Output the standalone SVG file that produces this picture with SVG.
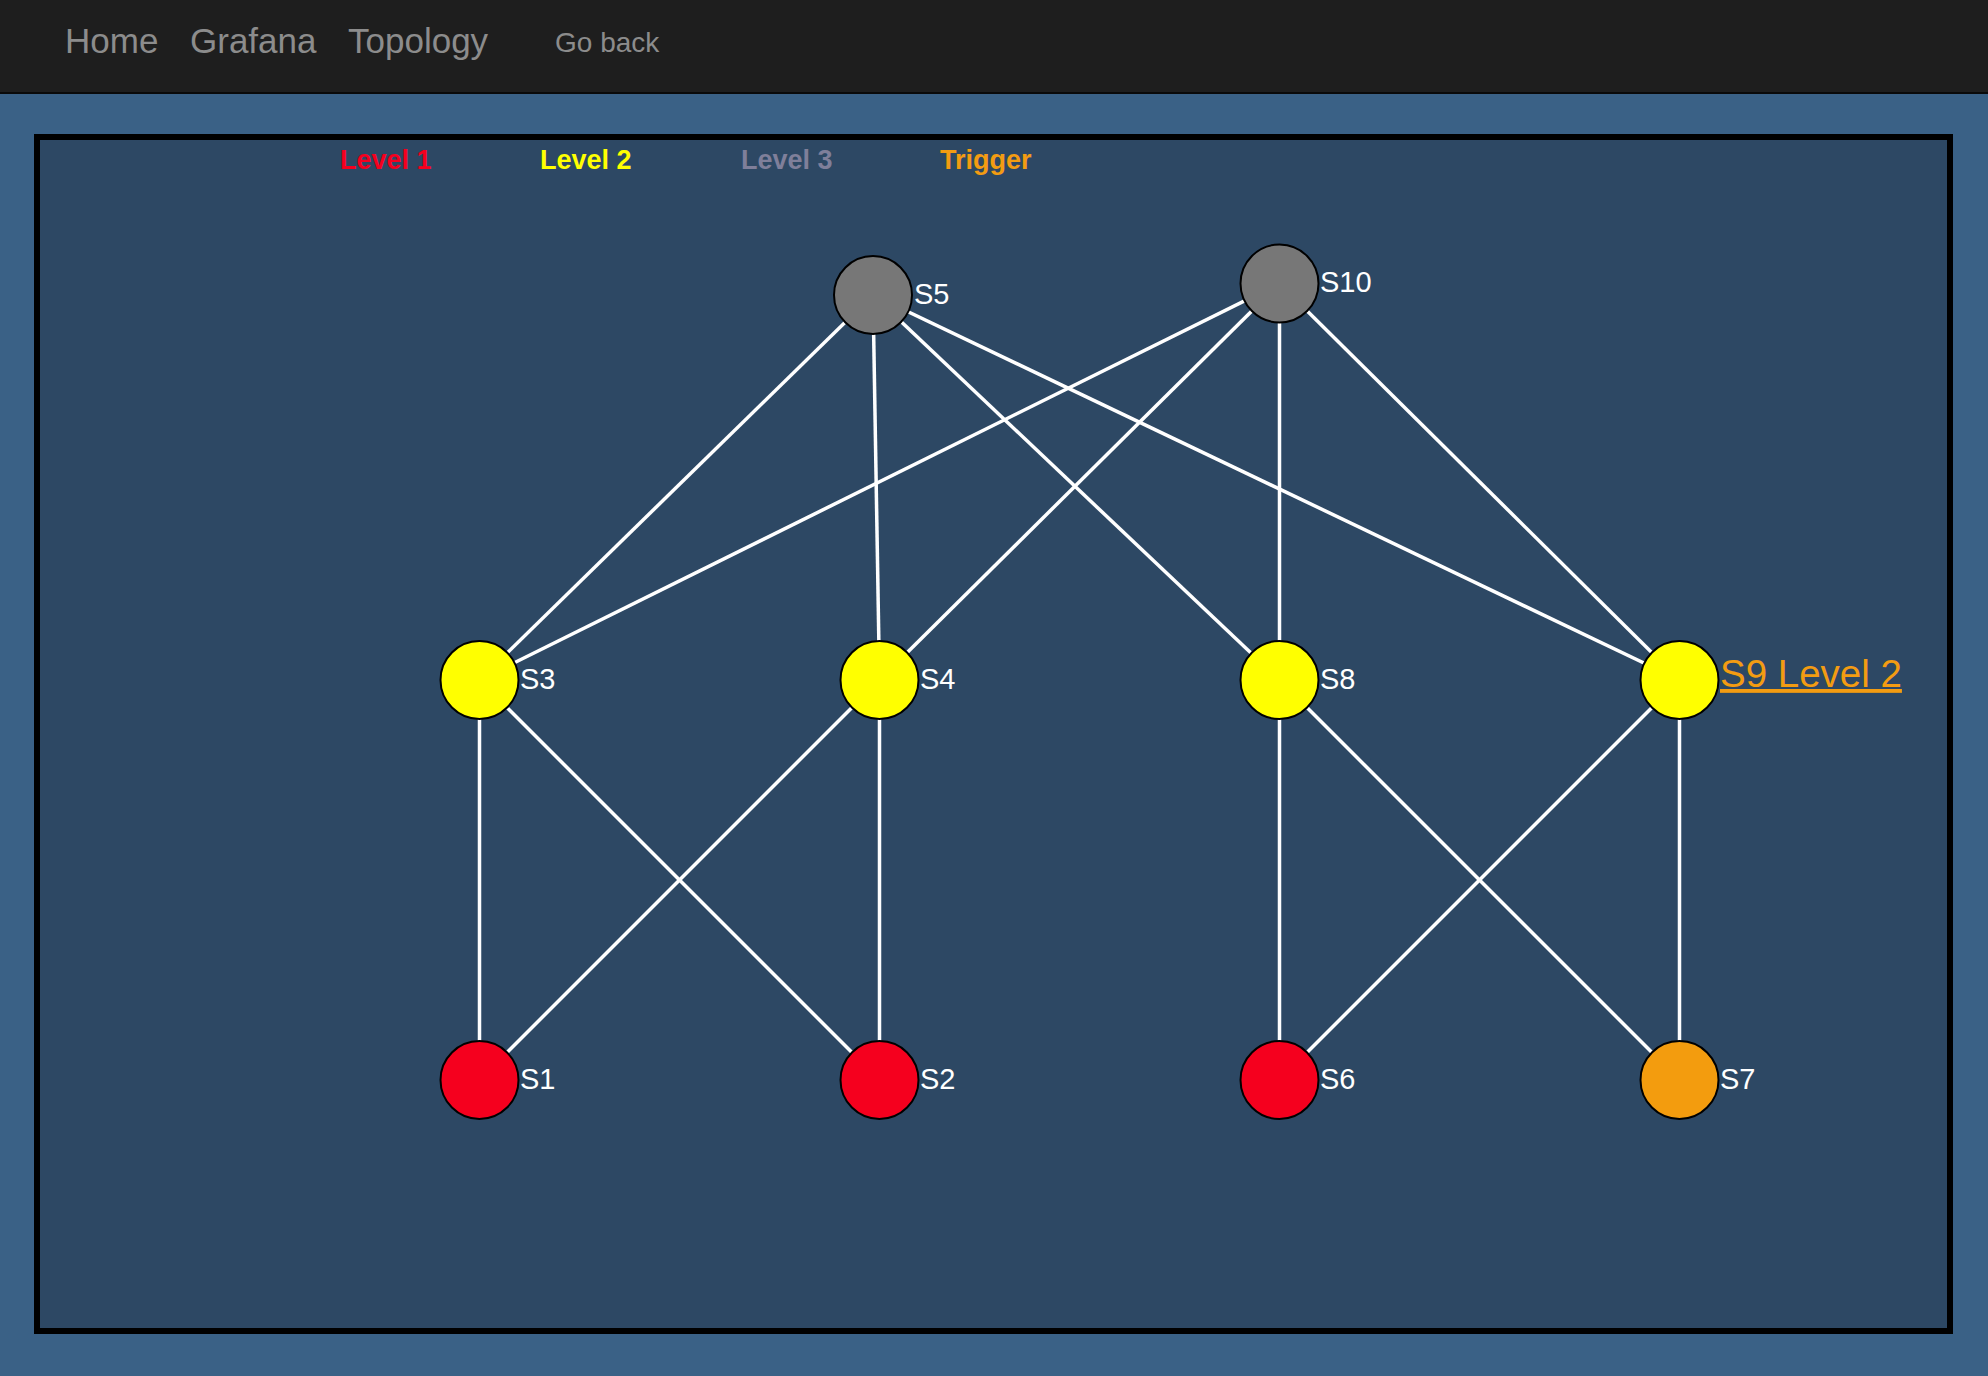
<svg xmlns="http://www.w3.org/2000/svg" width="1988" height="1376" viewBox="0 0 1988 1376">
<style>
.nav{font-family:"Liberation Sans",Arial,sans-serif;fill:#8c8c8c}
.leg{font-family:"Liberation Sans",Arial,sans-serif;font-weight:bold;font-size:27px}
.lbl{font-family:"Liberation Sans",Arial,sans-serif;font-size:29px;fill:#ffffff}
.node{stroke:#000;stroke-width:2}
.edges line{stroke:#ffffff;stroke-width:3.5}
</style>
<rect x="0" y="0" width="1988" height="1376" fill="#3a6186"/>
<rect x="0" y="0" width="1988" height="92" fill="#1e1e1e"/>
<rect x="0" y="92" width="1988" height="2" fill="#0a0a0a"/>
<text class="nav" x="65" y="53" font-size="35">Home</text>
<text class="nav" x="190" y="53" font-size="35">Grafana</text>
<text class="nav" x="348" y="53" font-size="35">Topology</text>
<text class="nav" x="555" y="52" font-size="28">Go back</text>
<rect x="37" y="137" width="1913" height="1194" fill="#2d4864" stroke="#000" stroke-width="6"/>
<g id="legend">
<text class="leg" x="340" y="169" fill="#f5001e">Level 1</text>
<text class="leg" x="540" y="169" fill="#ffff00">Level 2</text>
<text class="leg" x="741" y="169" fill="#7f7f9a">Level 3</text>
<text class="leg" x="940" y="169" fill="#f39c12">Trigger</text>
</g>
<g class="edges" id="connectors">
<line x1="873" y1="295" x2="479.5" y2="680"/>
<line x1="873" y1="295" x2="879.5" y2="680"/>
<line x1="873" y1="295" x2="1279.5" y2="680"/>
<line x1="873" y1="295" x2="1679.5" y2="680"/>
<line x1="1279.5" y1="283.5" x2="479.5" y2="680"/>
<line x1="1279.5" y1="283.5" x2="879.5" y2="680"/>
<line x1="1279.5" y1="283.5" x2="1279.5" y2="680"/>
<line x1="1279.5" y1="283.5" x2="1679.5" y2="680"/>
<line x1="479.5" y1="680" x2="479.5" y2="1080"/>
<line x1="479.5" y1="680" x2="879.5" y2="1080"/>
<line x1="879.5" y1="680" x2="479.5" y2="1080"/>
<line x1="879.5" y1="680" x2="879.5" y2="1080"/>
<line x1="1279.5" y1="680" x2="1279.5" y2="1080"/>
<line x1="1279.5" y1="680" x2="1679.5" y2="1080"/>
<line x1="1679.5" y1="680" x2="1279.5" y2="1080"/>
<line x1="1679.5" y1="680" x2="1679.5" y2="1080"/>
</g>
<g id="S5"><circle class="node" cx="873" cy="295" r="39" fill="#777777"/><text class="lbl" x="914" y="304">S5</text></g>
<g id="S10"><circle class="node" cx="1279.5" cy="283.5" r="39" fill="#777777"/><text class="lbl" x="1320" y="292">S10</text></g>
<g id="S3"><circle class="node" cx="479.5" cy="680" r="39" fill="#ffff00"/><text class="lbl" x="520" y="689">S3</text></g>
<g id="S4"><circle class="node" cx="879.5" cy="680" r="39" fill="#ffff00"/><text class="lbl" x="920" y="689">S4</text></g>
<g id="S8"><circle class="node" cx="1279.5" cy="680" r="39" fill="#ffff00"/><text class="lbl" x="1320" y="689">S8</text></g>
<g id="S9"><circle class="node" cx="1679.5" cy="680" r="39" fill="#ffff00"/><text x="1720" y="687" font-family="Liberation Sans, Arial, sans-serif" font-size="38.5" fill="#f39c12" text-decoration="underline">S9 Level 2</text></g>
<g id="S1"><circle class="node" cx="479.5" cy="1080" r="39" fill="#f5001e"/><text class="lbl" x="520" y="1089">S1</text></g>
<g id="S2"><circle class="node" cx="879.5" cy="1080" r="39" fill="#f5001e"/><text class="lbl" x="920" y="1089">S2</text></g>
<g id="S6"><circle class="node" cx="1279.5" cy="1080" r="39" fill="#f5001e"/><text class="lbl" x="1320" y="1089">S6</text></g>
<g id="S7"><circle class="node" cx="1679.5" cy="1080" r="39" fill="#f39c0e"/><text class="lbl" x="1720" y="1089">S7</text></g>
</svg>
